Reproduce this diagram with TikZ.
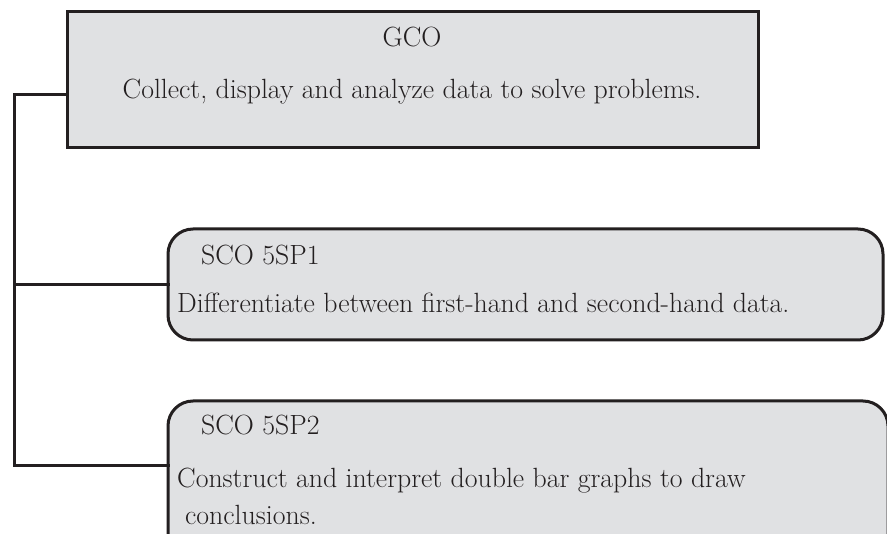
\documentclass[tikz,border=0pt]{standalone}
\usepackage{fontspec}
\usepackage{xcolor}
\usepackage{tikz}
\usetikzlibrary{positioning,calc}
\definecolor{ink}{HTML}{231F20}
\definecolor{boxgray}{HTML}{E0E1E3}
\tikzset{
  gcobox/.style={draw=ink, line width=3pt, fill=boxgray, inner sep=0pt,
                 outer sep=0pt, minimum width=#1},
  scobox/.style={draw=ink, line width=3pt, fill=boxgray, rounded corners=25pt,
                 inner sep=0pt, outer sep=0pt, minimum width=#1},
  lbl/.style={font=\fontsize{27.8}{32}\selectfont, text=ink, inner sep=0pt},
  link/.style={draw=ink, line width=3pt, line cap=rect}
}

\begin{document}
\begin{tikzpicture}[x=1pt,y=-1pt]
  \useasboundingbox (0,0) rectangle (887,534);
  \clip (0,0) rectangle (887,534);
  \fill[white] (0,0) rectangle (887,534);
  % boxes
  \node[gcobox=691pt, minimum height=136pt] (gco) at (412.5,80) {};
  \node[scobox=715pt, minimum height=111pt] (sco1) at (525.5,284.5) {};
  \node[scobox=720pt, minimum height=169pt] (sco2) at (528,485.5) {};
  % texts
  \node[lbl, anchor=base] (gcot) at (412,47) {GCO};
  \node[lbl, anchor=base] (gcod) at (412,99) {Collect, display and analyze data to solve problems.};
  \node[lbl, anchor=base west] (scoat) at (201,265) {SCO 5SP1};
  \node[lbl, anchor=base west] (scoad) at (177,313) {Differentiate between first-hand and second-hand data.};
  \node[lbl, anchor=base west] (scobt) at (201,435) {SCO 5SP2};
  \node[lbl, anchor=base west] (scobd) at (177,488) {Construct and interpret double bar graphs to draw};
  \node[lbl, anchor=base west] (scobe) at (185,525) {conclusions.};
  % connectors
  \coordinate (trunktop) at (14,95);
  \coordinate (trunkbot) at (14,466);
  \draw[link] (gco.west |- trunktop) -- (trunktop) -- (trunkbot) -- (sco2.west |- trunkbot);
  \draw[link] (sco1.west) -- (sco1.west -| trunktop);
\end{tikzpicture}
\end{document}
